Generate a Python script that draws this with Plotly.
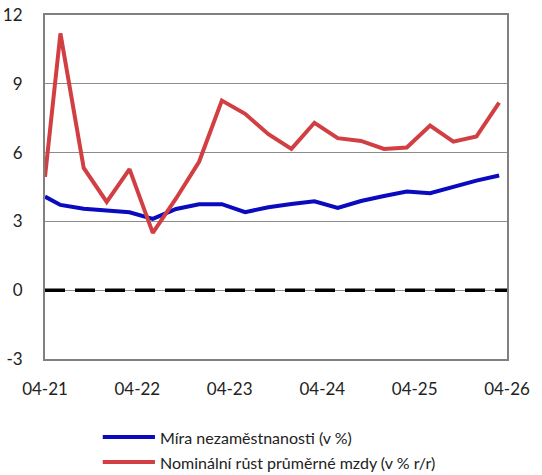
import plotly.graph_objects as go

# quarterly observations
dates = [
    "2021-04-01", "2021-06-01", "2021-09-01", "2021-12-01",
    "2022-03-01", "2022-06-01", "2022-09-01", "2022-12-01",
    "2023-03-01", "2023-06-01", "2023-09-01", "2023-12-01",
    "2024-03-01", "2024-06-01", "2024-09-01", "2024-12-01",
    "2025-03-01", "2025-06-01", "2025-09-01", "2025-12-01",
    "2026-03-01",
]
nezamestnanost = [4.08, 3.72, 3.55, 3.47, 3.40, 3.11, 3.54, 3.75, 3.75, 3.40, 3.62,
                  3.76, 3.88, 3.59, 3.89, 4.11, 4.30, 4.23, 4.52, 4.78, 5.00]
mzdy = [4.94, 11.2, 5.33, 3.85, 5.28, 2.5, 4.0, 5.6, 8.27, 7.69, 6.8,
        6.16, 7.3, 6.63, 6.51, 6.16, 6.22, 7.18, 6.48, 6.7, 8.18]

tick_dates = ["2021-04-01", "2022-04-01", "2023-04-01", "2024-04-01", "2025-04-01", "2026-04-01"]
tick_labels = ["04-21", "04-22", "04-23", "04-24", "04-25", "04-26"]
y_ticks = [-3, 0, 3, 6, 9, 12]
y_labels = ["-3", "0", "3", "6", "9", "12"]

nazev_modra = "Míra nezaměstnanosti (v %)"
nazev_cervena = "Nominální růst průměrné mzdy (v % r/r)"

BLUE = "#0A0ABE"
RED = "#D23F43"
FONT = "Lato"

fig = go.Figure()

fig.add_trace(go.Scatter(
    x=dates, y=nezamestnanost, mode="lines", name=nazev_modra,
    line=dict(color=BLUE, width=4), showlegend=False,
))
fig.add_trace(go.Scatter(
    x=dates, y=mzdy, mode="lines", name=nazev_cervena,
    line=dict(color=RED, width=4), showlegend=False,
))

# nulova cara
fig.add_shape(type="line", xref="paper", x0=0, x1=1, yref="y", y0=0, y1=0,
              line=dict(color="black", width=3.5, dash="20px,10px"))

# vlastni legenda
for i, (name, color) in enumerate([(nazev_modra, BLUE), (nazev_cervena, RED)]):
    ypos = -0.227 - i * 0.0725
    fig.add_shape(type="line", xref="paper", yref="paper",
                  x0=0.125, x1=0.238, y0=ypos, y1=ypos,
                  line=dict(color=color, width=4))
    fig.add_annotation(xref="paper", yref="paper", x=0.245, y=ypos,
                       text=name, showarrow=False, xanchor="left", yanchor="middle",
                       font=dict(family=FONT, size=16, color="#222"))

fig.update_layout(
    width=542, height=475,
    margin=dict(l=45, r=35, t=15, b=116, autoexpand=False),
    paper_bgcolor="white", plot_bgcolor="white",
    font=dict(family=FONT, size=17, color="#222"),
    showlegend=False,
)
fig.update_xaxes(
    type="date", range=["2021-04-01", "2026-04-01"],
    tickvals=tick_dates, ticktext=tick_labels,
    showgrid=False, showline=True, linecolor="#808080", linewidth=2, mirror=True,
    ticks="outside", ticklen=14, tickcolor="rgba(0,0,0,0)",
    zeroline=False, automargin=False,
)
fig.update_yaxes(
    range=[-3, 12], tickvals=y_ticks, ticktext=y_labels,
    showgrid=True, gridcolor="#8c8c8c", gridwidth=1,
    showline=True, linecolor="#808080", linewidth=2, mirror=True,
    ticks="outside", ticklen=17, tickcolor="rgba(0,0,0,0)",
    zeroline=False, automargin=False,
)

fig.write_html("out.html", config={"displayModeBar": False},
               post_script="document.body.style.margin='0';")
